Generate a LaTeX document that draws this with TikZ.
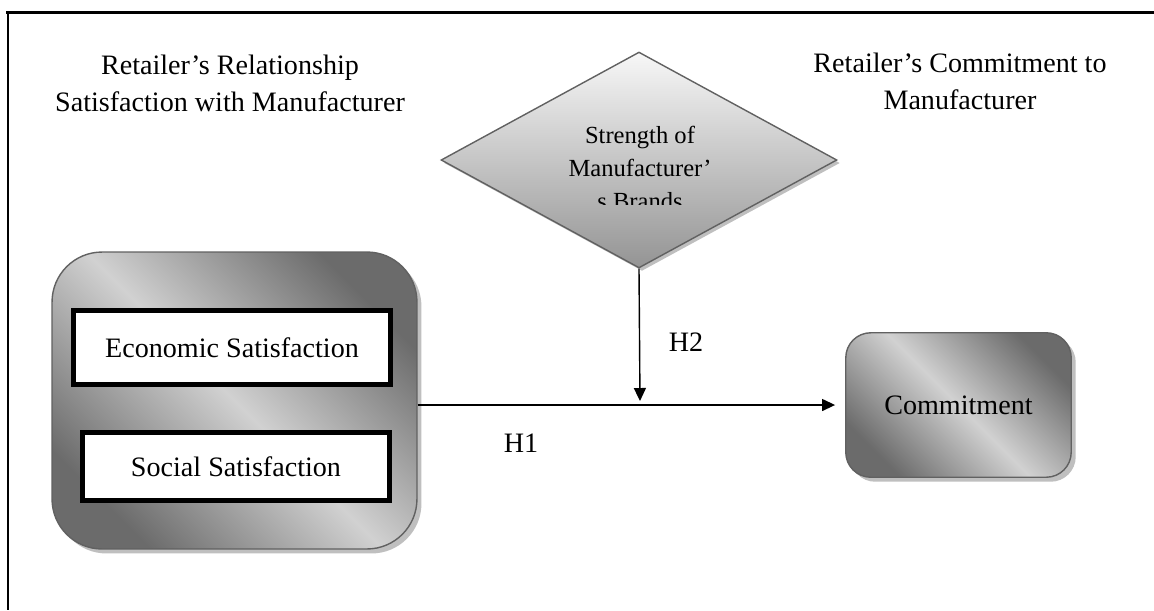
\documentclass[tikz,border=0pt]{standalone}
\usepackage{fontspec}
\setmainfont{Liberation Serif}
\usetikzlibrary{shapes.geometric,shadows,arrows.meta}

\tikzset{
  glossy/.style={draw=black!62, line width=0.8pt,
    top color=black!58, bottom color=black!58, middle color=black!18,
    shading angle=-45,
    drop shadow={shadow xshift=0.09cm, shadow yshift=-0.09cm, fill=black!25, opacity=1}},
  satbox/.style={draw, line width=0.1cm, fill=white, inner sep=0pt},
  link/.style={line width=0.8pt, -{Triangle[length=0.26cm,width=0.24cm]}},
}

\begin{document}
\begin{tikzpicture}[x=0.02cm, y=-0.02cm, font=\fontsize{16}{21}\selectfont]
    \useasboundingbox (0,0) rectangle (1154,610);
    % frame
    \draw[line width=0.06cm] (6,12) -- (1154,12);
    \draw[line width=0.04cm] (8,12) -- (8,610);

    % titles
    \node[align=center] (lefttitle) at (230,83) {Retailer’s Relationship\\Satisfaction with Manufacturer};
    \node[align=center] (righttitle) at (960,81) {Retailer’s Commitment to\\Manufacturer};

    % moderator
    \node[diamond, draw=black!62, line width=0.8pt, top color=black!3, bottom color=black!42,
          minimum width=7.92cm, minimum height=4.32cm, inner sep=0pt,
          drop shadow={shadow xshift=0.06cm, shadow yshift=-0.06cm, fill=black!25, opacity=1}]
          (brand) at (639,160) {};
    \begin{scope}
    \clip (440,100) rectangle (840,204);
    \node[align=center, font=\fontsize{14}{18.8}\selectfont] (brandtxt) at (640,168) {Strength of\\Manufacturer’\\s Brands};
    \end{scope}

    % satisfaction
    \node[glossy, rounded corners=1cm, minimum width=7.3cm, minimum height=5.94cm] (sat) at (234.5,400.5) {};
    \node[satbox, minimum width=6.34cm, minimum height=1.48cm] (econ) at (232,347.5) {Economic Satisfaction};
    \node[satbox, minimum width=6.14cm, minimum height=1.36cm] (soc) at (236,466.5) {Social Satisfaction};

    % commitment
    \node[glossy, rounded corners=0.5cm, minimum width=4.51cm, minimum height=2.89cm] (comm) at (958.5,405) {Commitment};

    % paths
    \coordinate (meet) at (640,401);
    \draw[link] (sat.east |- comm.west) -- ([xshift=-0.2cm]comm.west);
    \draw[link] (brand.south) -- (meet);
    \node (htwo) at (686,342) {H2};
    \node (hone) at (521,443) {H1};
\end{tikzpicture}
\end{document}
